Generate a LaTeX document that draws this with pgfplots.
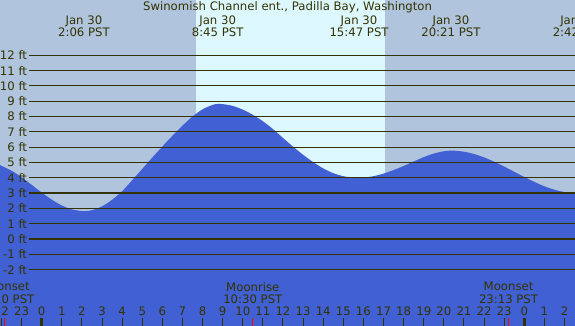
\documentclass[border=0pt]{standalone}
\usepackage{pgfplots}
\pgfplotsset{compat=1.18}
\usepackage{fontspec}
\setmainfont{DejaVu Sans}
\definecolor{nightc}{RGB}{176,196,222}
\definecolor{dayc}{RGB}{221,247,255}
\definecolor{tidec}{RGB}{65,96,211}
\definecolor{textc}{RGB}{51,51,0}
\newcommand\lbl{\fontsize{11.7bp}{12.5bp}\selectfont}
\pgfplotstableread{
t h
-2.2 4.90
-1.5 4.46
-1.0 4.03
-0.5 3.54
0.0 3.03
0.5 2.57
1.0 2.19
1.5 1.93
2.1 1.82
2.5 1.88
3.0 2.13
3.5 2.56
4.0 3.12
4.5 3.84
5.0 4.58
5.5 5.32
6.0 6.04
6.5 6.74
7.0 7.40
7.5 8.00
8.0 8.47
8.5 8.76
8.75 8.82
9.0 8.81
9.5 8.69
10.0 8.45
10.5 8.11
11.0 7.69
11.5 7.18
12.0 6.60
12.5 6.03
13.0 5.50
13.5 5.02
14.0 4.61
14.5 4.30
15.0 4.10
15.5 4.01
15.75 4.00
16.0 4.01
16.5 4.10
17.0 4.27
17.5 4.50
18.0 4.77
18.5 5.06
19.0 5.35
19.5 5.58
20.0 5.73
20.35 5.77
20.5 5.77
21.0 5.70
21.5 5.55
22.0 5.33
22.5 5.05
23.0 4.73
23.5 4.39
24.0 4.05
24.5 3.73
25.0 3.44
25.5 3.22
26.0 3.06
26.7 2.98
}\tide
\begin{document}
\begin{tikzpicture}
\useasboundingbox (0,0) rectangle (575bp,326bp);
\clip (0,0) rectangle (575bp,326bp);
\begin{axis}[
  at={(0,0)}, anchor=south west,
  width=575bp, height=326bp, scale only axis,
  xmin=-2.0738, xmax=26.522, ymin=-5.687, ymax=15.613,
  axis x line*=bottom, axis y line=none,
  x axis line style={draw=none},
  ytick=\empty,
  xtick={-2,...,26},
  xticklabels={22,23,0,1,2,3,4,5,6,7,8,9,10,11,12,13,14,15,16,17,18,19,20,21,22,23,0,1,2},
  xticklabel style={anchor=center, yshift=14.5bp, font=\lbl, text=textc},
  tick align=inside,
  major tick length=8bp,
  major tick style={draw=textc, line width=1bp},
  extra x ticks={0,24},
  extra x tick labels={},
  extra x tick style={major tick style={draw=textc, line width=3.3bp}},
  axis on top=true,
  no markers,
  clip=true,
]
\addplot[fill=nightc, draw=none] coordinates {(-3,-7) (-3,17) (27,17) (27,-7)} -- cycle;
\addplot[fill=dayc, draw=none] coordinates {(7.67,-7) (7.67,17) (17.08,17) (17.08,-7)} -- cycle;
\addplot[fill=tidec, draw=none, smooth, tension=0.5] table[x=t, y=h] {\tide} -- (axis cs:26.7,-7) -- (axis cs:-2.2,-7) -- cycle;
\pgfplotsinvokeforeach{-2,...,12}{
  \addplot[textc, line width=1.1bp] coordinates {(-0.632,#1) (26.7,#1)};
  \node[anchor=east, inner sep=0pt, text=textc, font=\lbl] at (axis cs:-0.72,#1) {#1 ft};
}
\addplot[red, line width=1bp] coordinates {(-1.833,-5.687) (-1.833,-5.17)};
\addplot[red, line width=1bp] coordinates {(10.5,-5.687) (10.5,-5.17)};
\addplot[red, line width=1bp] coordinates {(23.217,-5.687) (23.217,-5.17)};
\node[text=textc, font=\lbl, inner sep=0pt] at (axis cs:12.225,15.12) {Swinomish Channel ent., Padilla Bay, Washington};
\node[text=textc, font=\lbl, align=center, inner sep=0pt] at (axis cs:2.1,13.91) {Jan 30\\2:06 PST};
\node[text=textc, font=\lbl, align=center, inner sep=0pt] at (axis cs:8.75,13.91) {Jan 30\\8:45 PST};
\node[text=textc, font=\lbl, align=center, inner sep=0pt] at (axis cs:15.783,13.91) {Jan 30\\15:47 PST};
\node[text=textc, font=\lbl, align=center, inner sep=0pt] at (axis cs:20.35,13.91) {Jan 30\\20:21 PST};
\node[text=textc, font=\lbl, align=center, inner sep=0pt] at (axis cs:26.7,13.91) {Jan 30\\2:42 PST};
\node[text=textc, font=\lbl, align=center, inner sep=0pt] at (axis cs:-1.833,-3.53) {Moonset\\22:10 PST};
\node[text=textc, font=\lbl, align=center, inner sep=0pt] at (axis cs:10.5,-3.53) {Moonrise\\10:30 PST};
\node[text=textc, font=\lbl, align=center, inner sep=0pt] at (axis cs:23.217,-3.53) {Moonset\\23:13 PST};
\end{axis}
\end{tikzpicture}
\end{document}
